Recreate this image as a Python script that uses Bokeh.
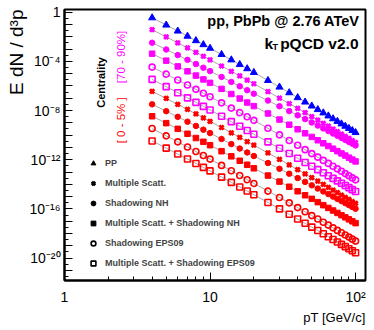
import math
from bokeh.plotting import figure
from bokeh.models import FixedTicker, Label, Legend, LegendItem, BasicTickFormatter, Title
from bokeh.embed import file_html
from bokeh.resources import INLINE

# ---------------- data ----------------
pt = [4, 5, 6, 7, 8, 9, 10, 12, 14, 16, 18, 20, 25, 30, 35, 40, 45, 50,
      55, 60, 65, 70, 75, 80, 85, 90, 95, 100]

# values read on the log scale: log10(E dN/d3p) of each (scaled) curve
log10_pp = [-0.455, -1.045, -1.533, -1.951, -2.315, -2.639, -2.931, -3.441, -3.877, -4.257,
            -4.596, -4.900, -5.551, -6.090, -6.550, -6.951, -7.308, -7.629, -7.922, -8.190,
            -8.437, -8.668, -8.883, -9.085, -9.276, -9.455, -9.627, -9.790]
log10_ms_peri = [-1.425, -2.008, -2.490, -2.904, -3.263, -3.584, -3.873, -4.377, -4.808, -5.184,
                 -5.519, -5.820, -6.456, -6.982, -7.432, -7.824, -8.173, -8.486, -8.773, -9.035,
                 -9.276, -9.502, -9.713, -9.910, -10.097, -10.272, -10.441, -10.600]
log10_shnh_peri = [-2.485, -3.033, -3.487, -3.877, -4.216, -4.518, -4.790, -5.266, -5.673, -6.029,
                   -6.346, -6.630, -7.187, -7.649, -8.044, -8.388, -8.695, -8.972, -9.225, -9.456,
                   -9.669, -9.869, -10.055, -10.229, -10.395, -10.550, -10.699, -10.840]
log10_msnh_peri = [-3.375, -3.940, -4.408, -4.808, -5.157, -5.468, -5.748, -6.238, -6.657, -7.022,
                   -7.348, -7.640, -8.237, -8.732, -9.154, -9.523, -9.852, -10.147, -10.417, -10.664,
                   -10.891, -11.104, -11.303, -11.489, -11.665, -11.831, -11.989, -12.140]
log10_sheps_peri = [-4.465, -5.040, -5.515, -5.923, -6.278, -6.594, -6.878, -7.376, -7.801, -8.172,
                    -8.503, -8.800, -9.444, -9.977, -10.433, -10.829, -11.183, -11.501, -11.791, -12.056,
                    -12.300, -12.529, -12.742, -12.942, -13.131, -13.308, -13.479, -13.640]
log10_mseps_peri = [-5.465, -6.058, -6.548, -6.968, -7.334, -7.659, -7.952, -8.465, -8.903, -9.284,
                    -9.625, -9.930, -10.549, -11.062, -11.500, -11.882, -12.222, -12.528, -12.807, -13.063,
                    -13.299, -13.519, -13.724, -13.917, -14.099, -14.270, -14.434, -14.590]
log10_ms_cent = [-6.435, -7.017, -7.498, -7.910, -8.269, -8.589, -8.877, -9.380, -9.810, -10.185,
                 -10.520, -10.820, -11.450, -11.972, -12.418, -12.806, -13.152, -13.464, -13.748, -14.008,
                 -14.247, -14.471, -14.680, -14.876, -15.061, -15.235, -15.402, -15.560]
log10_shnh_cent = [-7.495, -8.052, -8.513, -8.908, -9.252, -9.558, -9.834, -10.317, -10.730, -11.090,
                   -11.412, -11.700, -12.268, -12.739, -13.141, -13.493, -13.806, -14.087, -14.345, -14.581,
                   -14.798, -15.001, -15.190, -15.368, -15.537, -15.694, -15.846, -15.990]
log10_msnh_cent = [-8.465, -9.026, -9.490, -9.888, -10.235, -10.543, -10.821, -11.308, -11.724, -12.086,
                   -12.410, -12.700, -13.291, -13.782, -14.200, -14.566, -14.891, -15.184, -15.452, -15.697,
                   -15.922, -16.133, -16.330, -16.515, -16.689, -16.853, -17.011, -17.160]
log10_sheps_cent = [-9.465, -10.058, -10.548, -10.968, -11.334, -11.659, -11.952, -12.465, -12.903, -13.284,
                    -13.625, -13.930, -14.553, -15.070, -15.510, -15.895, -16.237, -16.545, -16.826, -17.083,
                    -17.321, -17.542, -17.749, -17.943, -18.126, -18.298, -18.463, -18.620]
log10_mseps_cent = [-10.475, -11.055, -11.535, -11.947, -12.305, -12.624, -12.911, -13.413, -13.843, -14.217,
                    -14.551, -14.850, -15.477, -15.997, -16.441, -16.828, -17.172, -17.482, -17.765, -18.024,
                    -18.263, -18.486, -18.693, -18.889, -19.073, -19.246, -19.412, -19.570]

legend_labels = ["PP", "Multiple Scatt.", "Shadowing NH", "Multiple Scatt. + Shadowing NH",
                 "Shadowing EPS09", "Multiple Scatt. + Shadowing EPS09"]
y_tick_values = [1.0, 1e-4, 1e-8, 1e-12, 1e-16, 1e-20]
y_tick_labels = ["1", "10\u207b\u2074", "10\u207b\u2078", "10\u207b\u00b9\u00b2",
                 "10\u207b\u00b9\u2076", "10\u207b\u00b2\u2070"]
x_tick_values = [1.0, 10.0, 100.0]
x_tick_labels = ["1", "10", "10\u00b2"]
x_title = "pT [GeV/c]"
y_title = "E dN / d\u00b3p"

FONT = "Liberation Sans"
BLUE, MAGENTA, RED = "#0000ff", "#ff00ff", "#ff0000"

# marker styles per legend kind
kinds = {
    "pp":   dict(marker="triangle", size=7, fill=True, lw=1),
    "ms":   dict(marker="x", size=6, fill=True, lw=2.8),
    "shnh": dict(marker="circle", size=5.5, fill=True, lw=1),
    "msnh": dict(marker="square", size=5.5, fill=True, lw=1),
    "sheps": dict(marker="circle", size=6, fill=False, lw=1.6),
    "mseps": dict(marker="square", size=6, fill=False, lw=1.6),
}

series = [
    ("pp", log10_pp, BLUE),
    ("ms", log10_ms_peri, MAGENTA),
    ("shnh", log10_shnh_peri, MAGENTA),
    ("msnh", log10_msnh_peri, MAGENTA),
    ("sheps", log10_sheps_peri, MAGENTA),
    ("mseps", log10_mseps_peri, MAGENTA),
    ("ms", log10_ms_cent, RED),
    ("shnh", log10_shnh_cent, RED),
    ("msnh", log10_msnh_cent, RED),
    ("sheps", log10_sheps_cent, RED),
    ("mseps", log10_mseps_cent, RED),
]

# ---------------- figure ----------------
p = figure(width=374, height=330, x_axis_type="log", y_axis_type="log",
           x_range=(1, 117), y_range=(1.49e-22, 1.66),
           output_backend="svg", toolbar_location=None,
           min_border_left=64, min_border_right=9, min_border_top=9, min_border_bottom=50)
p.xgrid.visible = False
p.ygrid.visible = False
p.outline_line_color = "black"
p.outline_line_width = 2
p.background_fill_color = "white"
p.border_fill_color = "white"

for kind, logs, color in series:
    yv = [10 ** v for v in logs]
    p.line(pt, yv, line_color="#a8a8a8", line_width=1)
for kind, logs, color in series:
    yv = [10 ** v for v in logs]
    k = kinds[kind]
    p.scatter(pt, yv, marker=k["marker"], size=k["size"], line_color=color,
              line_width=k["lw"], fill_color=color if k["fill"] else None)

# legend (black symbols); the legend renderers hold no visible point
nan = float("nan")
items = []
for key, lab in zip(["pp", "ms", "shnh", "msnh", "sheps", "mseps"], legend_labels):
    k = kinds[key]
    r = p.scatter([nan], [nan], marker=k["marker"], size=k["size"], line_color="black",
                  line_width=k["lw"], fill_color="black" if k["fill"] else None)
    items.append(LegendItem(label=lab, renderers=[r]))
legend = Legend(items=items, location=(23, 9), orientation="vertical",
                glyph_width=12, glyph_height=12, label_height=16, spacing=4,
                padding=0, margin=0, label_standoff=6,
                border_line_alpha=0, background_fill_alpha=0,
                label_text_font=FONT, label_text_font_style="bold",
                label_text_font_size="9px")
p.add_layout(legend)

# axes
xa, ya = p.xaxis[0], p.yaxis[0]
xa.ticker = FixedTicker(ticks=x_tick_values,
                        minor_ticks=[2, 3, 4, 5, 6, 7, 8, 9, 20, 30, 40, 50, 60, 70, 80, 90])
decades = [10.0 ** (-k) for k in range(0, 22)]
half = [10.0 ** (-k - 0.5) for k in range(0, 22)]
ya.ticker = FixedTicker(ticks=decades, minor_ticks=half)
ya.formatter = BasicTickFormatter()
xa.formatter = BasicTickFormatter()
yover = {}
for d in decades:
    yover[d] = ""
for v, t in zip(y_tick_values, y_tick_labels):
    yover[v] = t
ya.major_label_overrides = yover
xa.major_label_overrides = dict(zip(x_tick_values, x_tick_labels))

for ax in (xa, ya):
    ax.axis_line_width = 2
    ax.axis_line_color = "black"
    ax.major_tick_in = 8
    ax.major_tick_out = 0
    ax.minor_tick_in = 4
    ax.minor_tick_out = 0
    ax.major_tick_line_width = 1
    ax.minor_tick_line_width = 1
    ax.major_label_text_font = FONT
    ax.major_label_text_font_size = "14px"
    ax.major_label_text_color = "black"

ya.major_label_standoff = 4
xa.major_label_standoff = 8

# axis titles, aligned to the far end of each axis as in the reference
p.add_layout(Title(text=x_title, align="right", text_font=FONT, text_font_style="normal",
                   text_font_size="13px", text_color="black", standoff=0), "below")
p.add_layout(Title(text=y_title, align="right", text_font=FONT, text_font_style="normal",
                   text_font_size="19px", text_color="black", standoff=0), "left")

# texts inside the frame
def lab(x, y, text, size, color="black", bold=True, align="left", angle=0.0):
    p.add_layout(Label(x=x, y=y, text=text, angle=angle, text_align=align,
                       text_baseline="middle", text_font=FONT,
                       text_font_style="bold" if bold else "normal",
                       text_font_size=size, text_color=color))

lab(106.5, 0.193, "pp, PbPb @ 2.76 ATeV", "14.5px", align="right")
lab(104.8, 2.62e-3, "pQCD v2.0", "15.5px", align="right")
lab(23.65, 2.62e-3, "k", "15.5px")
lab(26.9, 1.36e-3, "T", "9px")
lab(1.768, 1.95e-6, "Centrality", "11px", align="center", angle=math.pi / 2)
lab(2.427, 2.30e-4, "[70 - 90%]", "11.5px", color=MAGENTA, bold=False, align="center", angle=math.pi / 2)
lab(2.427, 1.61e-9, "[ 0 - 5% ]", "11.5px", color=RED, bold=False, align="center", angle=math.pi / 2)

open("out.html", "w").write(file_html(p, INLINE))
